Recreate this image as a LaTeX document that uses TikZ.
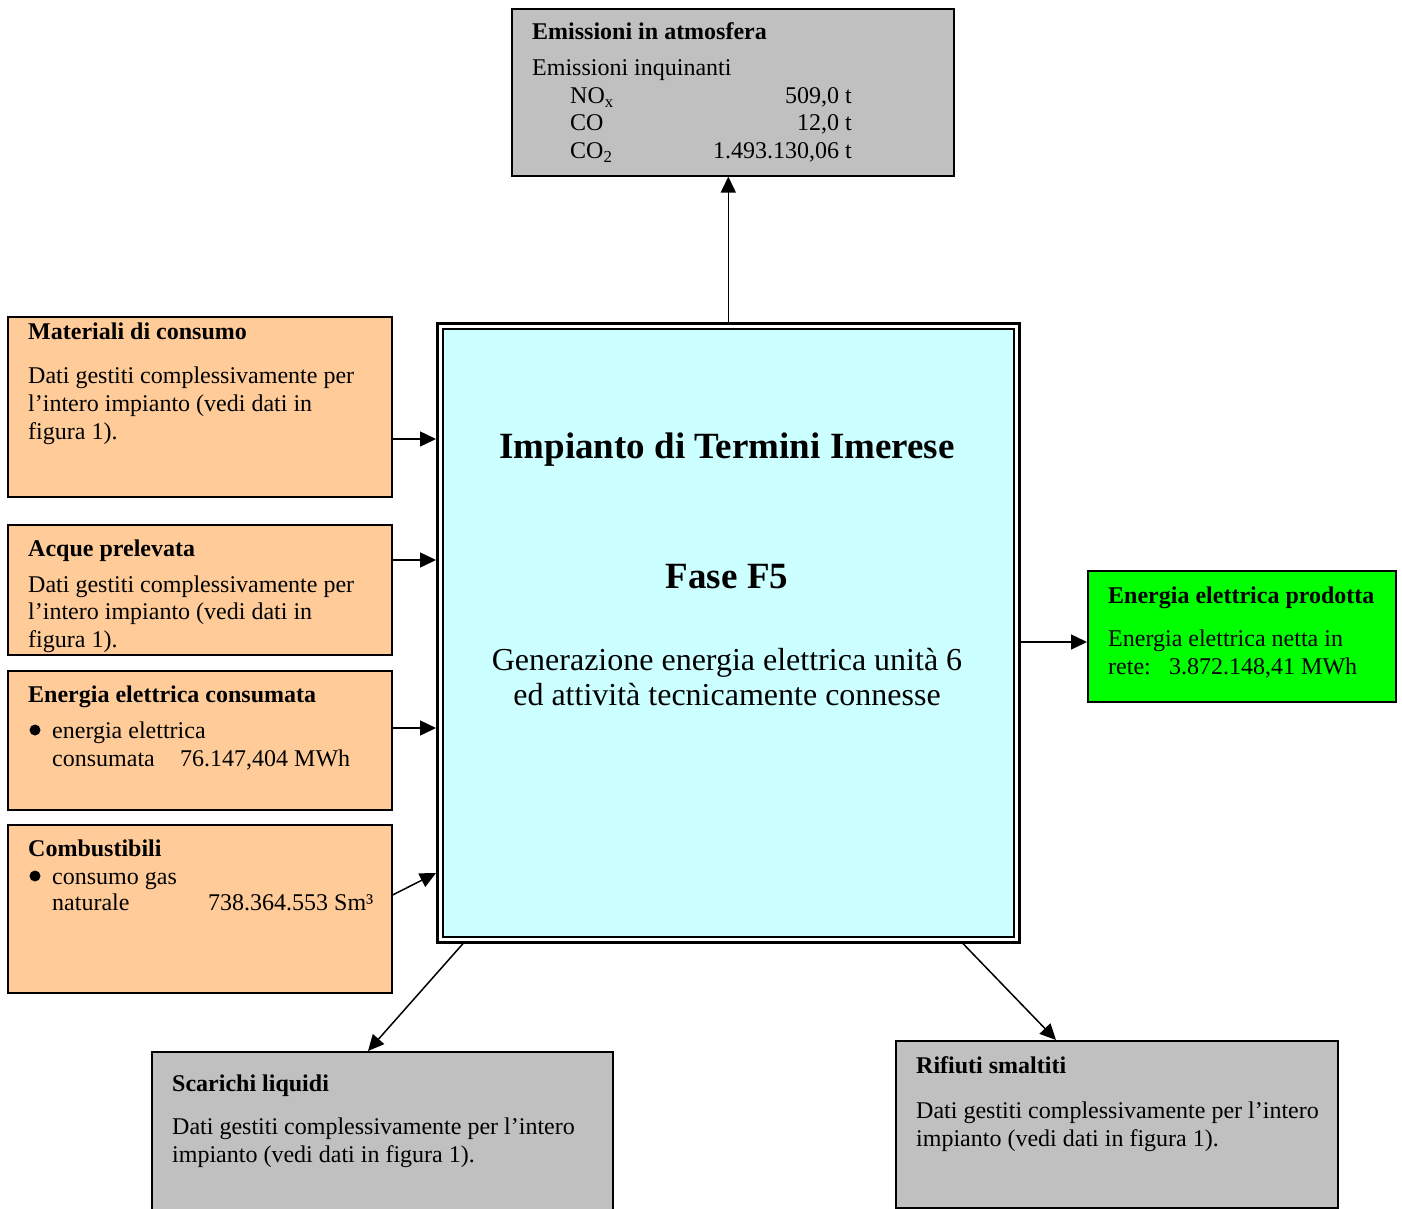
\documentclass[tikz,border=0pt]{standalone}
\usepackage{fontspec}
\setmainfont{Liberation Serif}
\usetikzlibrary{arrows.meta}
\definecolor{panelgray}{HTML}{C0C0C0}
\definecolor{panelorange}{HTML}{FFCC99}
\definecolor{panelcyan}{HTML}{CCFFFF}
\definecolor{panelgreen}{HTML}{00FF00}
\begin{document}
\begin{tikzpicture}[x=1pt,y=-1pt,
  panel/.style={draw=black, line width=1.6pt, rectangle, anchor=north west, inner sep=0pt},
  txt/.style={anchor=base west, inner sep=0pt, font=\fontsize{24}{28}\selectfont},
  txtr/.style={anchor=base east, inner sep=0pt, font=\fontsize{24}{28}\selectfont},
  ttl/.style={anchor=base west, inner sep=0pt, font=\fontsize{24}{28}\selectfont\bfseries},
  big/.style={anchor=base, inner sep=0pt, font=\fontsize{37}{42}\selectfont\bfseries},
  mid/.style={anchor=base, inner sep=0pt, font=\fontsize{32}{36}\selectfont},
  dot/.style={circle, fill=black, inner sep=0pt, minimum size=11pt},
  arr/.style={line width=1.5pt, -{Triangle[length=16pt,width=15pt]}}]
\useasboundingbox (0,0) rectangle (1402,1209);
\clip (0,0) rectangle (1402,1209);

% ---- central plant block (double frame) ----
\node[panel, line width=2.6pt, fill=white, minimum width=582pt, minimum height=619pt] (plant) at (436,322) {};
\node[panel, line width=1.6pt, fill=panelcyan, minimum width=571pt, minimum height=608pt] (plantin) at (442,328) {};
\node[big] (ptitle) at (727,458) {Impianto di Termini Imerese};
\node[big] (pphase) at (727,588) {Fase F5};
\node[mid] (pdesc1) at (727,670) {Generazione energia elettrica unità 6};
\node[mid] (pdesc2) at (727,705) {ed attività tecnicamente connesse};

% ---- emissions ----
\node[panel, fill=panelgray, minimum width=442pt, minimum height=167pt] (emis) at (511,8) {};
\node[ttl] (emisT) at (532,40) {Emissioni in atmosfera};
\node[txt] (emis1) at (532,76) {Emissioni inquinanti};
\node[txt] (emisA) at (570,104) {NO\textsubscript{x}};
\node[txtr] (emisAv) at (852,104) {509,0 t};
\node[txt] (emisB) at (570,131) {CO};
\node[txtr] (emisBv) at (852,131) {12,0 t};
\node[txt] (emisC) at (570,159) {CO\textsubscript{2}};
\node[txtr] (emisCv) at (852,159) {1.493.130,06 t};

% ---- inputs ----
\node[panel, fill=panelorange, minimum width=384pt, minimum height=180pt] (mat) at (7,316) {};
\node[ttl] (matT) at (28,339) {Materiali di consumo};
\node[txt] (mat1) at (28,383) {Dati gestiti complessivamente per};
\node[txt] (mat2) at (28,411) {l’intero impianto (vedi dati in};
\node[txt] (mat3) at (28,439) {figura 1).};

\node[panel, fill=panelorange, minimum width=384pt, minimum height=130pt] (acq) at (7,524) {};
\node[ttl] (acqT) at (28,556) {Acque prelevata};
\node[txt] (acq1) at (28,592) {Dati gestiti complessivamente per};
\node[txt] (acq2) at (28,619) {l’intero impianto (vedi dati in};
\node[txt] (acq3) at (28,647) {figura 1).};

\node[panel, fill=panelorange, minimum width=384pt, minimum height=139pt] (ene) at (7,670) {};
\node[ttl] (eneT) at (28,702) {Energia elettrica consumata};
\node[dot] (eneB) at (35,730) {};
\node[txt] (ene1) at (52,738) {energia elettrica};
\node[txt] (ene2) at (52,766) {consumata};
\node[txt] (ene2v) at (180,766) {76.147,404 MWh};

\node[panel, fill=panelorange, minimum width=384pt, minimum height=168pt] (comb) at (7,824) {};
\node[ttl] (combT) at (28,856) {Combustibili};
\node[dot] (combB) at (35,876) {};
\node[txt] (comb1) at (52,884) {consumo gas};
\node[txt] (comb2) at (52,910) {naturale};
\node[txt] (comb2v) at (208,910) {738.364.553 Sm³};

% ---- produced energy ----
\node[panel, fill=panelgreen, minimum width=308pt, minimum height=131pt] (prod) at (1087,570) {};
\node[ttl] (prodT) at (1108,603) {Energia elettrica prodotta};
\node[txt] (prod1) at (1108,646) {Energia elettrica netta in};
\node[txt] (prod2) at (1108,674) {rete:};
\node[txt] (prod2v) at (1169,674) {3.872.148,41 MWh};

% ---- outputs at the bottom ----
\node[panel, fill=panelgray, minimum width=461pt, minimum height=200pt] (scar) at (151,1051) {};
\node[ttl] (scarT) at (172,1091) {Scarichi liquidi};
\node[txt] (scar1) at (172,1134) {Dati gestiti complessivamente per l’intero};
\node[txt] (scar2) at (172,1162) {impianto (vedi dati in figura 1).};

\node[panel, fill=panelgray, minimum width=442pt, minimum height=167pt] (rif) at (895,1040) {};
\node[ttl] (rifT) at (916,1073) {Rifiuti smaltiti};
\node[txt] (rif1) at (916,1118) {Dati gestiti complessivamente per l’intero};
\node[txt] (rif2) at (916,1146) {impianto (vedi dati in figura 1).};

% ---- connectors ----
\draw[arr] (mat.east |- 0,439) -- (plant.west |- 0,439);
\draw[arr] (acq.east |- 0,560) -- (plant.west |- 0,560);
\draw[arr] (ene.east |- 0,728) -- (plant.west |- 0,728);
\draw[arr] (comb.east |- 0,895) -- (plant.west |- 0,873);
\draw[arr] (plant.north) -- (plant.north |- emis.south);
\draw[arr] (plant.east |- 0,642) -- (prod.west |- 0,642);
\draw[arr] (plant.south -| 463,0) -- (scar.north -| 368,0);
\draw[arr] (plant.south -| 963,0) -- (rif.north -| 1056,0);
\end{tikzpicture}
\end{document}
